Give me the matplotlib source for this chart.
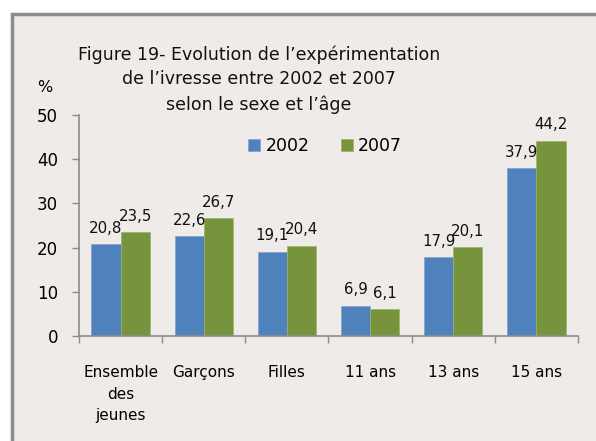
import matplotlib
matplotlib.use("Agg")
import matplotlib.pyplot as plt
import numpy as np
from matplotlib.patches import Rectangle

categories = ["Ensemble\ndes\njeunes", "Garçons", "Filles", "11 ans", "13 ans", "15 ans"]
series_names = ["2002", "2007"]
values_2002 = [20.8, 22.6, 19.1, 6.9, 17.9, 37.9]
values_2007 = [23.5, 26.7, 20.4, 6.1, 20.1, 44.2]
y_ticks = [0, 10, 20, 30, 40, 50]

BLUE = "#4F81BD"
GREEN = "#77933C"
BG = "#EEEBE8"

plt.rcParams['font.family'] = ['DejaVu Sans']

W, H = 596, 441
fig = plt.figure(figsize=(W / 100, H / 100), dpi=100)
fig.patch.set_facecolor("white")
# chart frame (cut at right/bottom)
fig.patches.append(Rectangle((12 / W, -0.05), 1.1, (H - 14) / H + 0.05, transform=fig.transFigure,
                             facecolor=BG, edgecolor="#8C8C8C", linewidth=2.5, zorder=-10))

ax = fig.add_axes([79 / W, (H - 336) / H, (578 - 79) / W, (336 - 115) / H])
ax.set_facecolor("none")
ax.set_zorder(5)

x = np.arange(len(categories))
bw = 0.35
b1 = ax.bar(x - bw / 2, values_2002, bw, color=BLUE, label=series_names[0], edgecolor="#7FA3D0", linewidth=0.5)
b2 = ax.bar(x + bw / 2, values_2007, bw, color=GREEN, label=series_names[1], edgecolor="#9BB46A", linewidth=0.5)

for bars, vals in ((b1, values_2002), (b2, values_2007)):
    for r, v in zip(bars, vals):
        ax.annotate(f"{v:.1f}".replace(".", ","), (r.get_x() + r.get_width() / 2, v),
                    xytext=(0, 6), textcoords="offset points", ha="center", va="bottom",
                    fontsize=10.8, color="#111111")

ax.set_xlim(-0.5, len(categories) - 0.5)
ax.set_ylim(0, 50)
ax.set_yticks(y_ticks)
ax.set_yticklabels([str(t) for t in y_ticks], fontsize=12)
ax.set_xticks(x)
ax.set_xticklabels(categories, fontsize=11, linespacing=1.55)
ax.set_xticks(np.arange(-0.5, len(categories)), minor=True)
ax.tick_params(axis="x", which="major", length=0, pad=21)
ax.tick_params(axis="x", which="minor", length=5, color="#8C8C8C", width=1)
ax.tick_params(axis="y", length=5, color="#8C8C8C", width=1, pad=10)

for s in ["top", "right"]:
    ax.spines[s].set_visible(False)
for s in ["left", "bottom"]:
    ax.spines[s].set_color("#8C8C8C")
    ax.spines[s].set_linewidth(1.2)

leg = ax.legend(loc="upper left", bbox_to_anchor=(0.325, 0.93), ncol=2, frameon=False,
                fontsize=12.5, handlelength=0.7, handleheight=0.7, handletextpad=0.3,
                columnspacing=1.8, borderaxespad=0)

fig.text(259 / W, 1 - 45 / H, "Figure 19- Evolution de l’expérimentation\nde l’ivresse entre 2002 et 2007\nselon le sexe et l’âge",
         ha="center", va="top", fontsize=12.5, linespacing=1.5, color="#111111")
fig.text(45 / W, 1 - 87 / H, "%", ha="center", va="center", fontsize=11.5)

fig.savefig("out.png", dpi=100, facecolor=fig.get_facecolor())
